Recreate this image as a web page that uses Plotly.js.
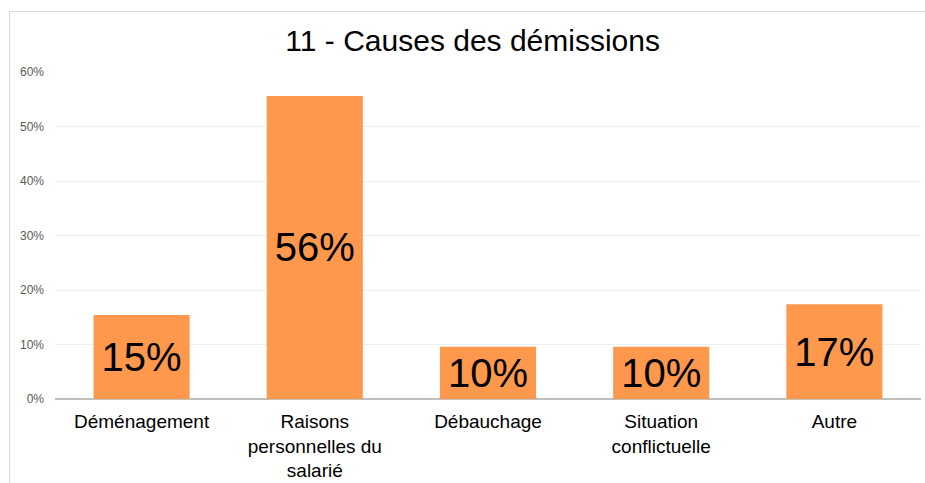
<!DOCTYPE html>
<html>
<head>
<meta charset="utf-8">
<script src="https://cdn.plot.ly/plotly-3.0.1.min.js"></script>
<style>
  html, body { margin: 0; padding: 0; background: #ffffff; }
  #frame { position: absolute; left: 9px; top: 11px; width: 930px; height: 490px; border: 1px solid #d9d9d9; box-sizing: border-box; }
  #chart { position: absolute; left: 0; top: 0; width: 925px; height: 483px; }
</style>
</head>
<body>
<div id="frame"></div>
<div id="chart"></div>
<script>
const categories = ["Déménagement", "Raisons<br>personnelles du<br>salarié", "Débauchage", "Situation<br>conflictuelle", "Autre"];
const values = [0.154, 0.556, 0.096, 0.096, 0.174];
const valueLabels = ["15%", "56%", "10%", "10%", "17%"];
const yTickValues = [0, 0.1, 0.2, 0.3, 0.4, 0.5, 0.6];
const yTickLabels = ["0%", "10%", "20%", "30%", "40%", "50%", "60%"];

const trace = {
  type: "bar",
  x: categories,
  y: values,
  text: valueLabels,
  textposition: "inside",
  insidetextanchor: "middle",
  constraintext: "none",
  textfont: { family: "Liberation Sans, Arial, sans-serif", size: 40, color: "#000000" },
  marker: { color: "#FD984D" },
  width: 0.555,
  hoverinfo: "skip"
};

const layout = {
  width: 925,
  height: 483,
  paper_bgcolor: "rgba(0,0,0,0)",
  plot_bgcolor: "rgba(0,0,0,0)",
  margin: { l: 55, r: 4, t: 72, b: 84 },
  showlegend: false,
  title: {
    text: "11 - Causes des démissions",
    font: { family: "Liberation Sans, Arial, sans-serif", size: 30, color: "#000000" },
    x: 0.511, xref: "container", xanchor: "center",
    y: 0.917, yref: "container", yanchor: "middle"
  },
  xaxis: {
    type: "category",
    tickfont: { family: "Liberation Sans, Arial, sans-serif", size: 19, color: "#000000" },
    showgrid: false,
    showline: false,
    zeroline: false,
    ticks: "",
    ticklabelstandoff: 9,
    fixedrange: true
  },
  yaxis: {
    range: [0, 0.6],
    tickvals: yTickValues,
    ticktext: yTickLabels,
    tickfont: { family: "Liberation Sans, Arial, sans-serif", size: 12, color: "#595959" },
    showgrid: true,
    gridcolor: "#eeeeee",
    gridwidth: 1,
    zeroline: true,
    zerolinecolor: "#bfbfbf",
    zerolinewidth: 2,
    showline: false,
    ticks: "",
    ticklabelstandoff: 10,
    fixedrange: true
  },
  bargap: 0.445
};

Plotly.newPlot("chart", [trace], layout, { displayModeBar: false, staticPlot: true });
</script>
</body>
</html>
